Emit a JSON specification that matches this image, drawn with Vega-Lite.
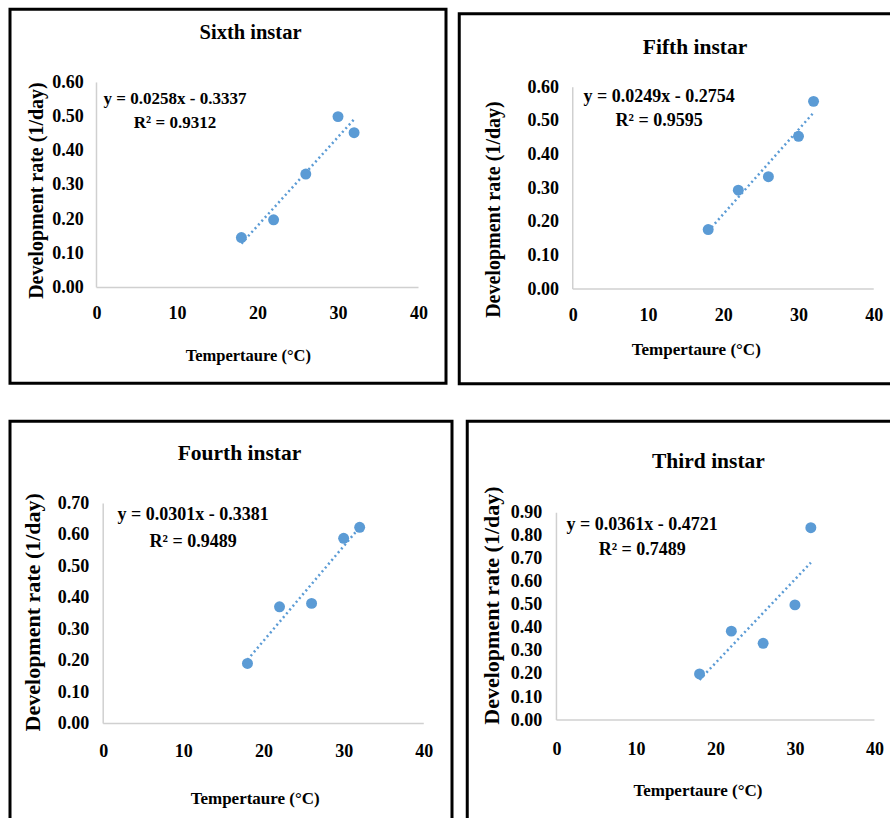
{
  "$schema": "https://vega.github.io/schema/vega-lite/v6.json",
  "padding": {"left": 8, "top": 7, "right": 0, "bottom": 0},
  "config": {
    "view": {"stroke": "#000000", "strokeWidth": 3},
    "font": "Liberation Serif",
    "axis": {"grid": false, "domain": false, "ticks": false, "tickSize": 0, "labelFont": "Liberation Serif", "labelFontWeight": "bold", "labelFontSize": 18, "labelColor": "#000000", "titleFont": "Liberation Serif", "titleFontWeight": "bold", "titleColor": "#000000", "labelOverlap": false, "labelFlush": false},
    "axisX": {"titleFontSize": 17, "labelBaseline": "middle", "titleBaseline": "middle", "titleAlign": "center"},
    "axisY": {"titleFontSize": 20, "titleAngle": -90, "titleBaseline": "middle", "titleAlign": "center", "labelAlign": "right", "labelBaseline": "middle"},
    "title": {"font": "Liberation Serif", "fontWeight": "bold", "fontSize": 21.5, "color": "#000000", "baseline": "middle", "anchor": "middle"},
    "text": {"font": "Liberation Serif", "fontWeight": "bold", "fontSize": 17.5, "color": "#000000", "baseline": "middle", "align": "center"}
  },
  "datasets": {
    "sixth": [{"temp": 18, "rate": 0.146}, {"temp": 22, "rate": 0.198}, {"temp": 26, "rate": 0.332}, {"temp": 30, "rate": 0.5}, {"temp": 32, "rate": 0.453}],
    "fifth": [{"temp": 18, "rate": 0.177}, {"temp": 22, "rate": 0.294}, {"temp": 26, "rate": 0.334}, {"temp": 30, "rate": 0.454}, {"temp": 32, "rate": 0.558}],
    "fourth": [{"temp": 18, "rate": 0.191}, {"temp": 22, "rate": 0.371}, {"temp": 26, "rate": 0.382}, {"temp": 30, "rate": 0.589}, {"temp": 32, "rate": 0.624}],
    "third": [{"temp": 18, "rate": 0.2}, {"temp": 22, "rate": 0.386}, {"temp": 26, "rate": 0.333}, {"temp": 30, "rate": 0.5}, {"temp": 32, "rate": 0.835}]
  },
  "spacing": 3,
  "center": true,
  "hconcat": [
    {
      "spacing": 34,
      "vconcat": [
        {
          "width": 436, "height": 374,
          "title": {"text": "Sixth instar", "offset": -34.3, "dx": 22.5, "fontSize": 20.5},
          "data": {"name": "sixth"},
          "layer": [
            {"data": {"values": [{}]}, "mark": {"type": "rule", "color": "#D0D0D0", "strokeWidth": 1.5}, "encoding": {"x": {"datum": 0}, "x2": {"datum": 40}, "y": {"datum": 0}}},
            {"data": {"values": [{}]}, "mark": {"type": "rule", "color": "#D0D0D0", "strokeWidth": 1.5}, "encoding": {"x": {"datum": 0}, "y": {"datum": 0}, "y2": {"datum": 0.6}}},
            {"transform": [{"regression": "rate", "on": "temp"}], "mark": {"type": "line", "strokeDash": [2, 3], "strokeWidth": 2.5, "color": "#5B9BD5"}, "encoding": {"x": {"field": "temp", "type": "quantitative"}, "y": {"field": "rate", "type": "quantitative"}}},
            {"mark": {"type": "circle", "size": 120, "color": "#5B9BD5", "opacity": 1},
             "encoding": {
               "x": {"field": "temp", "type": "quantitative", "scale": {"domain": [-10.745, 43.416], "nice": false, "zero": false}, "axis": {"values": [0, 10, 20, 30, 40], "offset": -95.8, "labelPadding": 26.3, "title": "Tempertaure (°C)", "titleFontSize": 16.5, "titleX": 237.8, "titleY": 67.6}},
               "y": {"field": "rate", "type": "quantitative", "scale": {"domain": [-0.2804, 0.8142], "nice": false, "zero": false}, "axis": {"values": [0, 0.1, 0.2, 0.3, 0.4, 0.5, 0.6], "format": ".2f", "offset": -86.5, "labelPadding": 13.3, "title": "Development rate (1/day)", "titleX": -60.3, "titleY": 180.8}}
             }},
            {"data": {"values": [{}]}, "mark": {"type": "text", "fontSize": 17}, "encoding": {"x": {"datum": 9.75}, "y": {"datum": 0.5523}, "text": {"value": "y = 0.0258x - 0.3337"}}},
            {"data": {"values": [{}]}, "mark": {"type": "text", "fontSize": 17}, "encoding": {"x": {"datum": 9.75}, "y": {"datum": 0.482}, "text": {"value": "R² = 0.9312"}}}
          ]
        },
        {
          "width": 442, "height": 408,
          "title": {"text": "Fourth instar", "offset": -43.3, "dx": 8.5},
          "data": {"name": "fourth"},
          "layer": [
            {"data": {"values": [{}]}, "mark": {"type": "rule", "color": "#D0D0D0", "strokeWidth": 1.5}, "encoding": {"x": {"datum": 0}, "x2": {"datum": 40}, "y": {"datum": 0}}},
            {"data": {"values": [{}]}, "mark": {"type": "rule", "color": "#D0D0D0", "strokeWidth": 1.5}, "encoding": {"x": {"datum": 0}, "y": {"datum": 0}, "y2": {"datum": 0.7}}},
            {"transform": [{"regression": "rate", "on": "temp"}], "mark": {"type": "line", "strokeDash": [2, 3], "strokeWidth": 2.5, "color": "#5B9BD5"}, "encoding": {"x": {"field": "temp", "type": "quantitative"}, "y": {"field": "rate", "type": "quantitative"}}},
            {"mark": {"type": "circle", "size": 120, "color": "#5B9BD5", "opacity": 1},
             "encoding": {
               "x": {"field": "temp", "type": "quantitative", "scale": {"domain": [-11.63, 43.52], "nice": false, "zero": false}, "axis": {"values": [0, 10, 20, 30, 40], "offset": -105.8, "labelPadding": 28.3, "title": "Tempertaure (°C)", "titleX": 244.7, "titleY": 75}},
               "y": {"field": "rate", "type": "quantitative", "scale": {"domain": [-0.3366, 0.9615], "nice": false, "zero": false}, "axis": {"values": [0, 0.1, 0.2, 0.3, 0.4, 0.5, 0.6, 0.7], "format": ".2f", "offset": -93.2, "labelPadding": 14.4, "title": "Development rate (1/day)", "titleFontSize": 22, "titleX": -71, "titleY": 190.5}}
             }},
            {"data": {"values": [{}]}, "mark": {"type": "text", "fontSize": 18}, "encoding": {"x": {"datum": 11.22}, "y": {"datum": 0.6631}, "text": {"value": "y = 0.0301x - 0.3381"}}},
            {"data": {"values": [{}]}, "mark": {"type": "text", "fontSize": 18}, "encoding": {"x": {"datum": 11.22}, "y": {"datum": 0.578}, "text": {"value": "R² = 0.9489"}}}
          ]
        }
      ]
    },
    {
      "spacing": 33.5,
      "center": true,
      "vconcat": [
        {
          "width": 446, "height": 370,
          "title": {"text": "Fifth instar", "offset": -44.8, "dx": 12.8},
          "data": {"name": "fifth"},
          "layer": [
            {"data": {"values": [{}]}, "mark": {"type": "rule", "color": "#D0D0D0", "strokeWidth": 1.5}, "encoding": {"x": {"datum": 0}, "x2": {"datum": 40}, "y": {"datum": 0}}},
            {"data": {"values": [{}]}, "mark": {"type": "rule", "color": "#D0D0D0", "strokeWidth": 1.5}, "encoding": {"x": {"datum": 0}, "y": {"datum": 0}, "y2": {"datum": 0.6}}},
            {"transform": [{"regression": "rate", "on": "temp"}], "mark": {"type": "line", "strokeDash": [2, 3], "strokeWidth": 2.5, "color": "#5B9BD5"}, "encoding": {"x": {"field": "temp", "type": "quantitative"}, "y": {"field": "rate", "type": "quantitative"}}},
            {"mark": {"type": "circle", "size": 120, "color": "#5B9BD5", "opacity": 1},
             "encoding": {
               "x": {"field": "temp", "type": "quantitative", "scale": {"domain": [-15.083, 44.186], "nice": false, "zero": false}, "axis": {"values": [0, 10, 20, 30, 40], "offset": -94.7, "labelPadding": 26, "title": "Tempertaure (°C)", "titleX": 236.5, "titleY": 60.7}},
               "y": {"field": "rate", "type": "quantitative", "scale": {"domain": [-0.2816, 0.8185], "nice": false, "zero": false}, "axis": {"values": [0, 0.1, 0.2, 0.3, 0.4, 0.5, 0.6], "format": ".2f", "offset": -113.5, "labelPadding": 14.3, "title": "Development rate (1/day)", "titleX": -79.3, "titleY": 195.3}}
             }},
            {"data": {"values": [{}]}, "mark": {"type": "text", "fontSize": 18}, "encoding": {"x": {"datum": 11.47}, "y": {"datum": 0.5697}, "text": {"value": "y = 0.0249x - 0.2754"}}},
            {"data": {"values": [{}]}, "mark": {"type": "text", "fontSize": 18}, "encoding": {"x": {"datum": 11.47}, "y": {"datum": 0.4983}, "text": {"value": "R² = 0.9595"}}}
          ]
        },
        {
          "width": 430, "height": 403.5,
          "title": {"text": "Third instar", "offset": -51.7, "dx": 26.2},
          "data": {"name": "third"},
          "layer": [
            {"data": {"values": [{}]}, "mark": {"type": "rule", "color": "#D0D0D0", "strokeWidth": 1.5}, "encoding": {"x": {"datum": 0}, "x2": {"datum": 40}, "y": {"datum": 0}}},
            {"data": {"values": [{}]}, "mark": {"type": "rule", "color": "#D0D0D0", "strokeWidth": 1.5}, "encoding": {"x": {"datum": 0}, "y": {"datum": 0}, "y2": {"datum": 0.9}}},
            {"transform": [{"regression": "rate", "on": "temp"}], "mark": {"type": "line", "strokeDash": [2, 3], "strokeWidth": 2.5, "color": "#5B9BD5"}, "encoding": {"x": {"field": "temp", "type": "quantitative"}, "y": {"field": "rate", "type": "quantitative"}}},
            {"mark": {"type": "circle", "size": 120, "color": "#5B9BD5", "opacity": 1},
             "encoding": {
               "x": {"field": "temp", "type": "quantitative", "scale": {"domain": [-11.22, 42.87], "nice": false, "zero": false}, "axis": {"values": [0, 10, 20, 30, 40], "offset": -104.7, "labelPadding": 29, "title": "Tempertaure (°C)", "titleX": 230.2, "titleY": 70}},
               "y": {"field": "rate", "type": "quantitative", "scale": {"domain": [-0.4545, 1.2972], "nice": false, "zero": false}, "axis": {"values": [0, 0.1, 0.2, 0.3, 0.4, 0.5, 0.6, 0.7, 0.8, 0.9], "format": ".2f", "offset": -89.2, "labelPadding": 14.7, "title": "Development rate (1/day)", "titleFontSize": 22, "titleX": -64.7, "titleY": 183.8}}
             }},
            {"data": {"values": [{}]}, "mark": {"type": "text", "fontSize": 18}, "encoding": {"x": {"datum": 10.79}, "y": {"datum": 0.8465}, "text": {"value": "y = 0.0361x - 0.4721"}}},
            {"data": {"values": [{}]}, "mark": {"type": "text", "fontSize": 18}, "encoding": {"x": {"datum": 10.79}, "y": {"datum": 0.738}, "text": {"value": "R² = 0.7489"}}}
          ]
        }
      ]
    }
  ]
}
